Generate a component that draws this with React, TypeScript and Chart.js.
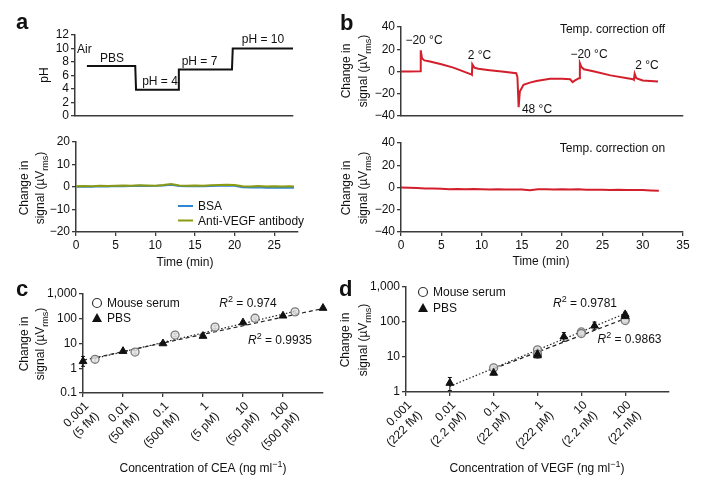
import React, { useEffect, useRef } from 'react';
import { Chart, registerables } from 'chart.js';
Chart.register(...registerables);

const W = 702, H = 481;
const FONT = '"Liberation Sans", Arial, Helvetica, sans-serif';
const AXIS = '#3a3a3a';
const TXT = '#111';

// ---------- Panel a (top): pH ----------
const phTime = [1.5, 7.6, 7.7, 13.0, 13.1, 19.8, 19.9, 27.5];
const phValue = [7.4, 7.4, 3.9, 3.9, 6.9, 6.9, 10, 10];
const phTicks = [0, 2, 4, 6, 8, 10, 12];

// ---------- Panel a (bottom) ----------
const aTime = [0, 1, 2, 3, 4, 5, 6, 7, 8, 9, 10, 11, 12, 13, 14, 15, 16, 17, 18, 19, 20, 21, 22, 23, 24, 25, 26, 27, 27.5];
const bsaSignal = [0.1, 0.2, 0.1, 0.3, 0.2, 0.4, 0.3, 0.4, 0.5, 0.4, 0.5, 0.7, 1.0, 0.4, 0.3, 0.4, 0.3, 0.4, 0.5, 0.6, 0.5, -0.1, -0.2, -0.1, -0.3, -0.2, -0.3, -0.2, -0.3];
const antiVegfSignal = [0.3, 0.4, 0.3, 0.6, 0.5, 0.6, 0.7, 0.6, 0.8, 0.7, 0.6, 0.9, 1.3, 0.7, 0.6, 0.7, 0.6, 0.8, 0.9, 1.0, 0.9, 0.3, 0.2, 0.4, 0.2, 0.3, 0.2, 0.3, 0.2];
const aYTicks = [-20, -10, 0, 10, 20];
const aXTicks = [0, 5, 10, 15, 20, 25];

// ---------- Panel b ----------
const bTopTime = [0, 1, 2.4, 2.45, 2.6, 2.9, 3.6, 5, 6.5, 8.7, 8.8, 8.85, 9.1, 9.6, 11, 12.5, 14.3, 14.45, 14.6, 14.75, 15.2, 16, 16.8, 18.5, 20, 21, 21.3, 21.6, 22.1, 22.2, 22.4, 22.7, 24, 26, 28.8, 28.9, 29.0, 29.2, 30, 31.9];
const bTopSignal = [0, 0, 0.3, 19, 12, 10, 8.9, 6.5, 3.5, -2.5, -3, 6.5, 3.5, 2.5, 1.2, 0, -1.5, -5, -32, -18, -12, -10, -8.6, -6.5, -6.5, -7, -9.5, -8, -6, 7.5, 4, 2, 0, -3.5, -7, -7.5, -2, -6, -8, -9];
const bBotTime = [0, 1, 2, 3, 4, 5, 6, 7, 8, 9, 10, 11, 12, 13, 14, 15, 16, 17, 18, 19, 20, 21, 22, 23, 24, 25, 26, 27, 28, 29, 30, 31, 32];
const bBotSignal = [0, -0.3, -0.5, -0.8, -1, -1.2, -1.5, -1.3, -1.6, -1.4, -1.5, -1.7, -1.6, -1.8, -1.7, -1.8, -2.4, -1.6, -1.5, -1.8, -1.6, -1.7, -1.5, -2, -2.1, -2, -2.2, -2.1, -2.2, -2.3, -2.2, -2.6, -3];
const bYTicks = [-40, -20, 0, 20, 40];
const bXTicks = [0, 5, 10, 15, 20, 25, 30, 35];

// ---------- Panel c (CEA) ----------
const cXTicks = [0.001, 0.01, 0.1, 1, 10, 100];
const cXLabels = [['0.001', '(5 fM)'], ['0.01', '(50 fM)'], ['0.1', '(500 fM)'], ['1', '(5 pM)'], ['10', '(50 pM)'], ['100', '(500 pM)']];
const cYTicks = [0.1, 1, 10, 100, 1000];
const cYLabels = ['0.1', '1', '10', '100', '1,000'];
const cSerumConc = [0.002, 0.02, 0.2, 2, 20, 200];
const cSerumSignal = [2.3, 4.5, 22, 46, 105, 190];
const cSerumErrLo = [1.7, 3.8, 19, 40, 95, 170];
const cSerumErrHi = [2.9, 5.3, 25, 52, 115, 210];
const cPbsConc = [0.001, 0.01, 0.1, 1, 10, 100, 1000];
const cPbsSignal = [1.9, 4.9, 10, 20, 70, 132, 270];
const cPbsErrLo = [1.2, 4.3, 9, 18, 63, 120, 250];
const cPbsErrHi = [3.0, 5.5, 11, 22, 77, 145, 290];
const cSerumFitConc = [0.002, 200];
const cSerumFitSignal = [2.5, 200];
const cPbsFitConc = [0.001, 1000];
const cPbsFitSignal = [2.1, 260];
const cR2 = ['0.974', '0.9935'];

// ---------- Panel d (VEGF) ----------
const dXTicks = [0.001, 0.01, 0.1, 1, 10, 100];
const dXLabels = [['0.001', '(222 fM)'], ['0.01', '(2.2 pM)'], ['0.1', '(22 pM)'], ['1', '(222 pM)'], ['10', '(2.2 nM)'], ['100', '(22 nM)']];
const dYTicks = [1, 10, 100, 1000];
const dYLabels = ['1', '10', '100', '1,000'];
const dSerumConc = [0.1, 1, 1, 10, 10, 100, 100];
const dSerumSignal = [4.9, 16, 12, 52, 47, 120, 110];
const dSerumErrLo = [4.3, 14, 11, 47, 43, 105, 100];
const dSerumErrHi = [5.5, 18, 13, 57, 51, 135, 120];
const dPbsConc = [0.01, 0.1, 1, 1, 4, 20, 100, 100];
const dPbsSignal = [1.8, 3.5, 12, 11, 38, 78, 165, 145];
const dPbsErrLo = [1.1, 3.1, 11, 10, 28, 62, 140, 130];
const dPbsErrHi = [2.6, 3.9, 14, 12.5, 50, 100, 190, 160];
const dSerumFitConc = [0.1, 100];
const dSerumFitSignal = [4.6, 125];
const dPbsFitConc = [0.01, 100];
const dPbsFitSignal = [1.45, 175];
const dR2 = ['0.9781', '0.9863'];

// ---------- helpers ----------
const YW = 40;
type Part = { t: string; k?: 'sup' | 'sub' | 'it' };
type Area = { l: number; t: number; r: number; b: number };

const pts = (xs: number[], ys: number[]) => xs.map((x, i) => ({ x, y: ys[i] }));
const minus = (v: number) => (v < 0 ? '\u2212' + Math.abs(v) : String(v));

function rich(ctx: CanvasRenderingContext2D, parts: Part[], x: number, y: number, size = 12, align: 'left' | 'center' | 'right' = 'center', rot = 0, weight = '') {
  ctx.save();
  ctx.translate(x, y);
  ctx.rotate(rot);
  const fontFor = (p: Part) => `${p.k === 'it' ? 'italic ' : ''}${weight ? weight + ' ' : ''}${p.k === 'sup' || p.k === 'sub' ? Math.round(size * 0.72) : size}px ${FONT}`;
  let total = 0;
  const widths = parts.map((p) => { ctx.font = fontFor(p); const w = ctx.measureText(p.t).width; total += w; return w; });
  let cx = align === 'center' ? -total / 2 : align === 'right' ? -total : 0;
  ctx.textAlign = 'left';
  ctx.textBaseline = 'alphabetic';
  ctx.fillStyle = TXT;
  parts.forEach((p, i) => {
    ctx.font = fontFor(p);
    const dy = p.k === 'sup' ? -size * 0.42 : p.k === 'sub' ? size * 0.28 : 0;
    ctx.fillText(p.t, cx, size * 0.36 + dy);
    cx += widths[i];
  });
  ctx.restore();
}

function yTitle(ctx: CanvasRenderingContext2D, x1: number, x2: number, y: number) {
  rich(ctx, [{ t: 'Change in' }], x1, y, 12, 'center', -Math.PI / 2);
  rich(ctx, [{ t: 'signal (\u00b5V' }, { t: 'rms', k: 'sub' }, { t: ')' }], x2, y, 12, 'center', -Math.PI / 2);
}

function scale(o: { type?: string; min: number; max: number; ticks: number[]; labels?: any[]; axis: 'x' | 'y'; rotate?: number; size?: number; labelOffset?: number }) {
  const has = o.ticks.length > 0;
  const size = o.size ?? (o.axis === 'x' ? 30 : YW);
  return {
    type: o.type ?? 'linear',
    min: o.min,
    max: o.max,
    afterBuildTicks: (s: any) => { s.ticks = o.ticks.map((v) => ({ value: v })); },
    afterFit: (s: any) => {
      if (o.axis === 'x') s.height = size; else s.width = size;
      s.paddingLeft = 0; s.paddingRight = 0; s.paddingTop = 0; s.paddingBottom = 0;
    },
    grid: { display: has, drawOnChartArea: false, drawTicks: true, tickLength: 4, color: AXIS, lineWidth: 1.3 },
    border: { display: true, color: AXIS, width: 1.5 },
    ticks: {
      display: has,
      autoSkip: false,
      padding: 2,
      color: TXT,
      labelOffset: o.labelOffset ?? 0,
      font: { family: FONT, size: 12 },
      minRotation: o.rotate ?? 0,
      maxRotation: o.rotate ?? 0,
      callback: (v: any, i: number) => (o.labels ? o.labels[i] : minus(Number(v))),
    },
  };
}

const errorBars = {
  id: 'errbars',
  beforeDatasetsDraw(chart: any) {
    const { ctx } = chart;
    chart.data.datasets.forEach((ds: any) => {
      if (!ds.errLo) return;
      ctx.save();
      ctx.strokeStyle = ds.errColor;
      ctx.lineWidth = 1;
      ds.data.forEach((p: any, i: number) => {
        const lo = ds.errLo[i], hi = ds.errHi[i];
        if (lo == null || hi == null) return;
        const x = chart.scales.x.getPixelForValue(p.x);
        const y1 = chart.scales.y.getPixelForValue(lo);
        const y2 = chart.scales.y.getPixelForValue(hi);
        ctx.beginPath();
        ctx.moveTo(x, y1); ctx.lineTo(x, y2);
        ctx.moveTo(x - 2, y1); ctx.lineTo(x + 2, y1);
        ctx.moveTo(x - 2, y2); ctx.lineTo(x + 2, y2);
        ctx.stroke();
      });
      ctx.restore();
    });
  },
};

function makeConfig(area: Area, xs: any, ys: any, datasets: any[], deco: (ctx: CanvasRenderingContext2D) => void, xh = 30): any {
  return {
    type: 'line',
    data: { datasets },
    options: {
      responsive: false,
      animation: false,
      events: [],
      layout: { padding: { left: area.l - YW, top: area.t, right: W - area.r, bottom: H - area.b - xh } },
      plugins: { legend: { display: false }, tooltip: { enabled: false }, title: { display: false } },
      scales: { x: xs, y: ys },
    },
    plugins: [errorBars, { id: 'deco', afterDraw: (c: any) => deco(c.ctx) }],
  };
}

const lineDs = (xs: number[], ys: number[], color: string, width = 2, order = 0) => ({
  data: pts(xs, ys), borderColor: color, borderWidth: width, pointRadius: 0, fill: false, tension: 0, clip: false, order,
});

const serumStyle = { pointStyle: 'circle', pointRadius: 4, pointBackgroundColor: 'rgba(225,225,225,0.75)', pointBorderColor: '#7a7a7a', pointBorderWidth: 1.3 };
const pbsStyle = { pointStyle: 'triangle', pointRadius: 4.5, pointBackgroundColor: '#111', pointBorderColor: '#111', pointBorderWidth: 1 };

function legendCircle(ctx: CanvasRenderingContext2D, x: number, y: number) {
  ctx.save(); ctx.beginPath(); ctx.arc(x, y, 4.5, 0, Math.PI * 2);
  ctx.fillStyle = '#fff'; ctx.fill(); ctx.strokeStyle = '#333'; ctx.lineWidth = 1.2; ctx.stroke(); ctx.restore();
}
function legendTriangle(ctx: CanvasRenderingContext2D, x: number, y: number) {
  ctx.save(); ctx.beginPath(); ctx.moveTo(x, y - 5); ctx.lineTo(x + 5, y + 4); ctx.lineTo(x - 5, y + 4); ctx.closePath();
  ctx.fillStyle = '#111'; ctx.fill(); ctx.restore();
}
function panelLetter(ctx: CanvasRenderingContext2D, s: string, x: number, y: number) {
  ctx.save(); ctx.font = `bold 22px ${FONT}`; ctx.fillStyle = TXT; ctx.textAlign = 'left'; ctx.textBaseline = 'alphabetic';
  ctx.fillText(s, x, y); ctx.restore();
}

// ---------- chart builders ----------
function buildATop(c: HTMLCanvasElement) {
  const area = { l: 75, t: 35, r: 293, b: 116 };
  return new Chart(c, makeConfig(area,
    scale({ axis: 'x', min: 0, max: 27.5, ticks: [] }),
    scale({ axis: 'y', min: 0, max: 12, ticks: phTicks }),
    [lineDs(phTime, phValue, '#111', 2)],
    (ctx) => {
      panelLetter(ctx, 'a', 16, 29);
      rich(ctx, [{ t: 'pH' }], 44, 75, 12, 'center', -Math.PI / 2);
      rich(ctx, [{ t: 'Air' }], 77, 49, 12, 'left');
      rich(ctx, [{ t: 'PBS' }], 112, 58, 12);
      rich(ctx, [{ t: 'pH = 4' }], 160, 81, 12);
      rich(ctx, [{ t: 'pH = 7' }], 199.5, 61, 12);
      rich(ctx, [{ t: 'pH = 10' }], 263, 39, 12);
    }));
}

function buildABot(c: HTMLCanvasElement) {
  const area = { l: 76, t: 142, r: 298, b: 232 };
  return new Chart(c, makeConfig(area,
    scale({ axis: 'x', min: 0, max: 28, ticks: aXTicks }),
    scale({ axis: 'y', min: -20, max: 20, ticks: aYTicks }),
    [lineDs(aTime, bsaSignal, '#2f86d4', 2, 1), lineDs(aTime, antiVegfSignal, '#8a9a14', 2, 0)],
    (ctx) => {
      yTitle(ctx, 23.5, 40, 188);
      rich(ctx, [{ t: 'Time (min)' }], 185, 262, 12);
      ctx.save(); ctx.lineWidth = 2;
      ctx.strokeStyle = '#2f86d4'; ctx.beginPath(); ctx.moveTo(178, 206); ctx.lineTo(193, 206); ctx.stroke();
      ctx.strokeStyle = '#8a9a14'; ctx.beginPath(); ctx.moveTo(178, 220.5); ctx.lineTo(193, 220.5); ctx.stroke();
      ctx.restore();
      rich(ctx, [{ t: 'BSA' }], 198, 206, 12, 'left');
      rich(ctx, [{ t: 'Anti-VEGF antibody' }], 198, 220.5, 12, 'left');
    }));
}

function buildBTop(c: HTMLCanvasElement) {
  const area = { l: 401, t: 27, r: 683, b: 116 };
  return new Chart(c, makeConfig(area,
    scale({ axis: 'x', min: 0, max: 35, ticks: [] }),
    scale({ axis: 'y', min: -40, max: 40, ticks: bYTicks }),
    [lineDs(bTopTime, bTopSignal, '#d21f2b', 2)],
    (ctx) => {
      panelLetter(ctx, 'b', 340, 30);
      yTitle(ctx, 346, 363, 71);
      rich(ctx, [{ t: '\u221220 \u00b0C' }], 424, 40, 12);
      rich(ctx, [{ t: '2 \u00b0C' }], 479.5, 55, 12);
      rich(ctx, [{ t: '48 \u00b0C' }], 537, 108.5, 12);
      rich(ctx, [{ t: '\u221220 \u00b0C' }], 589, 54, 12);
      rich(ctx, [{ t: '2 \u00b0C' }], 647, 64.5, 12);
      rich(ctx, [{ t: 'Temp. correction off' }], 612.5, 29, 12);
    }));
}

function buildBBot(c: HTMLCanvasElement) {
  const area = { l: 401, t: 143, r: 683, b: 232 };
  return new Chart(c, makeConfig(area,
    scale({ axis: 'x', min: 0, max: 35, ticks: bXTicks }),
    scale({ axis: 'y', min: -40, max: 40, ticks: bYTicks }),
    [lineDs(bBotTime, bBotSignal, '#d21f2b', 2)],
    (ctx) => {
      yTitle(ctx, 346, 363, 188);
      rich(ctx, [{ t: 'Time (min)' }], 541, 261, 12);
      rich(ctx, [{ t: 'Temp. correction on' }], 612.5, 147.5, 12);
    }));
}

function buildC(c: HTMLCanvasElement) {
  const area = { l: 83, t: 294, r: 323, b: 393 };
  return new Chart(c, makeConfig(area,
    scale({ axis: 'x', type: 'logarithmic', min: 0.001, max: 1000, ticks: cXTicks, labels: cXLabels, rotate: 45, size: 72, labelOffset: 4 }),
    scale({ axis: 'y', type: 'logarithmic', min: 0.1, max: 1000, ticks: cYTicks, labels: cYLabels }),
    [
      { ...lineDs(cSerumFitConc, cSerumFitSignal, '#222', 1.2, 2), borderDash: [1.5, 2] },
      { ...lineDs(cPbsFitConc, cPbsFitSignal, '#222', 1.2, 3), borderDash: [4, 3] },
      { data: pts(cSerumConc, cSerumSignal), showLine: false, clip: false, order: 1, errLo: cSerumErrLo, errHi: cSerumErrHi, errColor: '#888', ...serumStyle },
      { data: pts(cPbsConc, cPbsSignal), showLine: false, clip: false, order: 0, errLo: cPbsErrLo, errHi: cPbsErrHi, errColor: '#111', ...pbsStyle },
    ],
    (ctx) => {
      panelLetter(ctx, 'c', 16, 296);
      yTitle(ctx, 24, 40, 344);
      legendCircle(ctx, 97, 303);
      rich(ctx, [{ t: 'Mouse serum' }], 107, 303, 12, 'left');
      legendTriangle(ctx, 97, 318);
      rich(ctx, [{ t: 'PBS' }], 107, 318, 12, 'left');
      rich(ctx, [{ t: 'R', k: 'it' }, { t: '2', k: 'sup' }, { t: ' = ' + cR2[0] }], 248, 303, 12);
      rich(ctx, [{ t: 'R', k: 'it' }, { t: '2', k: 'sup' }, { t: ' = ' + cR2[1] }], 280, 340, 12);
      rich(ctx, [{ t: 'Concentration of CEA (ng ml' }, { t: '\u22121', k: 'sup' }, { t: ')' }], 203, 468, 12);
    }, 72));
}

function buildD(c: HTMLCanvasElement) {
  const area = { l: 406, t: 287, r: 669, b: 392 };
  return new Chart(c, makeConfig(area,
    scale({ axis: 'x', type: 'logarithmic', min: 0.001, max: 1000, ticks: dXTicks, labels: dXLabels, rotate: 45, size: 72, labelOffset: 4 }),
    scale({ axis: 'y', type: 'logarithmic', min: 1, max: 1000, ticks: dYTicks, labels: dYLabels }),
    [
      { ...lineDs(dPbsFitConc, dPbsFitSignal, '#222', 1.2, 2), borderDash: [1.5, 2] },
      { ...lineDs(dSerumFitConc, dSerumFitSignal, '#222', 1.2, 3), borderDash: [4, 3] },
      { data: pts(dSerumConc, dSerumSignal), showLine: false, clip: false, order: 1, errLo: dSerumErrLo, errHi: dSerumErrHi, errColor: '#888', ...serumStyle },
      { data: pts(dPbsConc, dPbsSignal), showLine: false, clip: false, order: 0, errLo: dPbsErrLo, errHi: dPbsErrHi, errColor: '#111', ...pbsStyle },
    ],
    (ctx) => {
      panelLetter(ctx, 'd', 339, 296);
      yTitle(ctx, 345, 363, 340);
      legendCircle(ctx, 423, 292);
      rich(ctx, [{ t: 'Mouse serum' }], 433, 292, 12, 'left');
      legendTriangle(ctx, 423, 308);
      rich(ctx, [{ t: 'PBS' }], 433, 308, 12, 'left');
      rich(ctx, [{ t: 'R', k: 'it' }, { t: '2', k: 'sup' }, { t: ' = ' + dR2[0] }], 585, 303, 12);
      rich(ctx, [{ t: 'R', k: 'it' }, { t: '2', k: 'sup' }, { t: ' = ' + dR2[1] }], 629.5, 339, 12);
      rich(ctx, [{ t: 'Concentration of VEGF (ng ml' }, { t: '\u22121', k: 'sup' }, { t: ')' }], 537, 468, 12);
    }, 72));
}

const builders = [buildATop, buildABot, buildBTop, buildBBot, buildC, buildD];

export default function App() {
  const refs = useRef<(HTMLCanvasElement | null)[]>([]);
  useEffect(() => {
    document.body.style.margin = '0';
    const charts = builders.map((b, i) => b(refs.current[i] as HTMLCanvasElement));
    return () => charts.forEach((c) => c.destroy());
  }, []);
  return (
    <div style={{ position: 'relative', width: W, height: H, background: '#fff', overflow: 'hidden' }}>
      {builders.map((_, i) => (
        <canvas key={i} ref={(el) => { refs.current[i] = el; }} width={W} height={H}
          style={{ position: 'absolute', left: 0, top: 0, width: W, height: H }} />
      ))}
    </div>
  );
}
